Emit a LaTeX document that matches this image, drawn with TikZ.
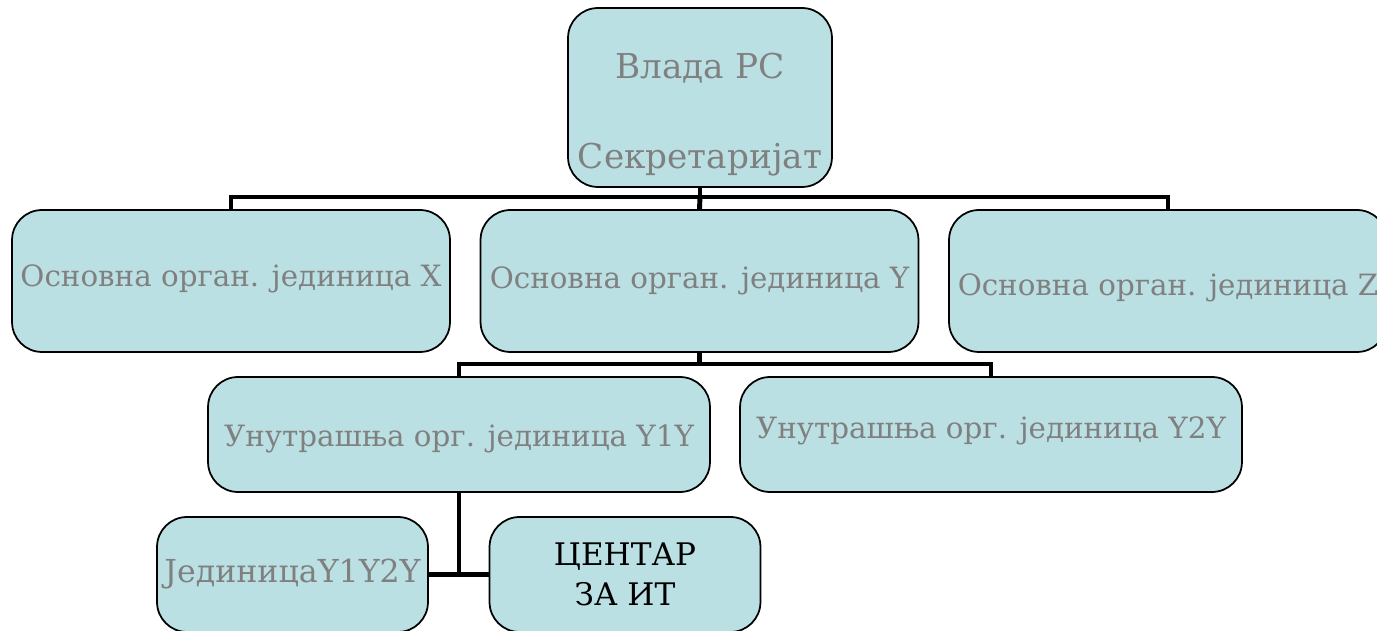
\documentclass[tikz,border=0pt]{standalone}
\usepackage{fontspec}
\setmainfont{DejaVu Serif}
\usepackage{xcolor}
\usepackage{tikz}
\usetikzlibrary{positioning, calc}

\definecolor{boxfill}{RGB}{187,224,227}
\definecolor{boxtext}{RGB}{128,128,128}

\begin{document}
\begin{tikzpicture}[
    x=0.02cm, y=-0.02cm,
    unit/.style={rectangle, rounded corners=0.6cm, draw=black, line width=1pt, fill=boxfill, text=boxtext, align=center, font=\fontsize{16.7}{20}\selectfont, inner sep=0pt},
    toplevel/.style={unit, minimum width=5.28cm, minimum height=3.58cm, font=\fontsize{19.5}{23}\selectfont},
    orglevel/.style={unit, minimum width=8.76cm, minimum height=2.84cm, text height=12pt, text depth=4pt},
    innerlevel/.style={unit, minimum width=10.04cm, minimum height=2.3cm, text height=12pt, text depth=4pt},
    sublevel/.style={unit, minimum width=5.42cm, minimum height=2.3cm},
    conn/.style={line width=2.8pt}
]
\useasboundingbox (0,0) rectangle (1377,631);

% Top
\node[toplevel] (gov) at (700, 97.5) {\rule{0pt}{1.2cm}Влада РС\\[1.0cm]Секретаријат};

% Basic units
\node[orglevel] (orgX) at (231, 281) {\raisebox{0.04cm}{Основна орган. јединица X}};
\node[orglevel] (orgY) at (699.5, 281) {Основна орган. јединица Y};
\node[orglevel] (orgZ) at (1168, 281) {\raisebox{-0.14cm}{Основна орган. јединица Z}};

% Inner units
\node[innerlevel] (inY1) at (459, 434.5) {\raisebox{-0.1cm}{Унутрашња орг. јединица Y1Y}};
\node[innerlevel] (inY2) at (991, 434.5) {\raisebox{0.06cm}{Унутрашња орг. јединица Y2Y}};

% Lowest level
\node[sublevel, font=\fontsize{18}{21}\selectfont] (unitY) at (292.5, 574.5) {JединицаY1Y2Y};
\node[sublevel, text=black, font=\fontsize{17.7}{22.5}\selectfont] (itc) at (625, 574.5) {ЦЕНТАР\\ ЗА ИТ};

% Connectors
\coordinate (bus1) at (700, 197);
\coordinate (bus2) at (699.5, 364);
\draw[conn] (gov.south) -- (bus1);
\draw[conn] (orgX.north) |- (bus1) -| (orgZ.north);
\draw[conn] (bus1) -- (orgY.north);

\draw[conn] (orgY.south) -- (bus2);
\draw[conn] (inY1.north) |- (bus2) -| (inY2.north);

\draw[conn] (inY1.south) -- (inY1.south |- unitY.east);
\draw[conn] (unitY.east) -- (itc.west);

\end{tikzpicture}
\end{document}
